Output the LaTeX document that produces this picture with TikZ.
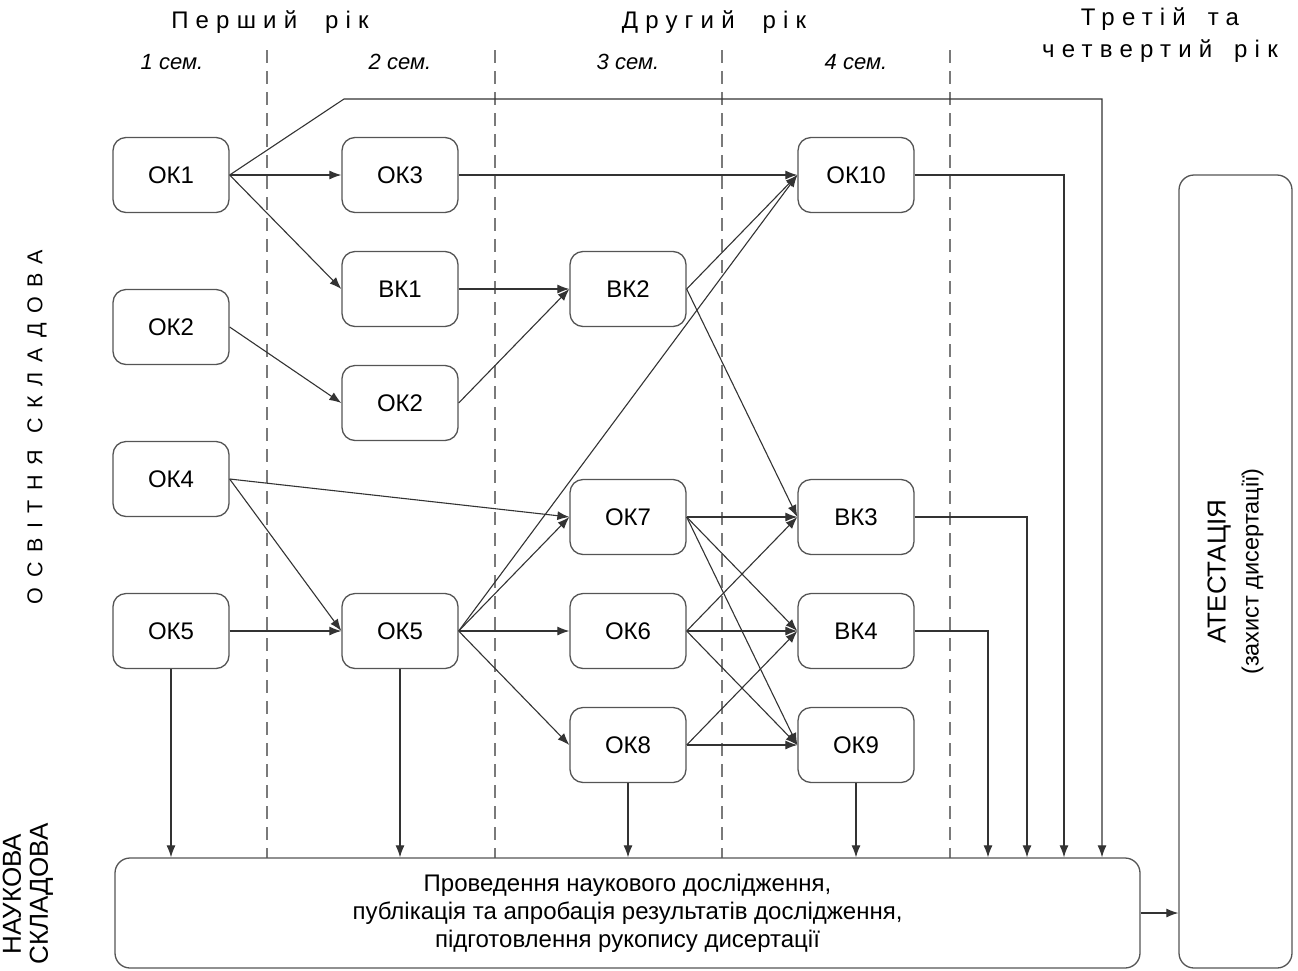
\documentclass[tikz,border=0pt]{standalone}
\usepackage{fontspec}
\setmainfont{Liberation Sans}
\newfontfamily\spaced[LetterSpace=30]{Liberation Sans}
\newfontfamily\spacedb[LetterSpace=45]{Liberation Sans}
\usetikzlibrary{arrows.meta,calc}
\definecolor{boxgray}{HTML}{555555}
\definecolor{linegray}{HTML}{333333}
\definecolor{dashgray}{HTML}{7A7A7A}
\begin{document}
\begin{tikzpicture}[x=1pt,y=-1pt,
  box/.style={draw=boxgray, line width=1.3pt, rounded corners=13pt, minimum width=116pt, minimum height=75pt, inner sep=0pt, font=\fontsize{24}{28}\selectfont},
  arr/.style={draw=linegray, line width=1.1pt, -{Latex[length=12pt,width=9pt]}},
  dashlin/.style={draw=dashgray, line width=1.2pt, dash pattern=on 13pt off 8pt},
  hdr/.style={font=\spaced\fontsize{24}{32}\selectfont, inner sep=0pt},
  sem/.style={font=\itshape\fontsize{22}{26}\selectfont, inner sep=0pt}]
\useasboundingbox (0,0) rectangle (1298,970);

% dashed separators
\foreach \x in {267,495,722,950} \draw[dashlin] (\x,50) -- (\x,858);

% headers
\node[hdr] (y1) at (270,22) {Перший\hspace{14pt} рік};
\node[hdr] (y2) at (714,22) {Другий\hspace{14pt} рік};
\node[hdr, align=center] (y3) at (1160,35) {Третій\hspace{8pt} та\\четвертий\hspace{8pt} рік};
\node[sem] (s1) at (172,62) {1 сем.};
\node[sem] (s2) at (400,62) {2 сем.};
\node[sem] (s3) at (628,62) {3 сем.};
\node[sem] (s4) at (856,62) {4 сем.};

% side labels
\node[rotate=90, inner sep=0pt, font=\spacedb\fontsize{21.5}{25}\selectfont] (osv) at (37,427) {ОСВІТНЯ СКЛАДОВА};
\node[rotate=90, align=center, inner sep=0pt, font=\fontsize{26}{27}\selectfont] (nauk) at (28,894) {НАУКОВА\\СКЛАДОВА};

% nodes
\node[box] (ok1) at (171,175) {ОК1};
\node[box] (ok2a) at (171,327) {ОК2};
\node[box] (ok4) at (171,479) {ОК4};
\node[box] (ok5a) at (171,631) {ОК5};
\node[box] (ok3) at (400,175) {ОК3};
\node[box] (bk1) at (400,289) {ВК1};
\node[box] (ok2b) at (400,403) {ОК2};
\node[box] (ok5b) at (400,631) {ОК5};
\node[box] (bk2) at (628,289) {ВК2};
\node[box] (ok7) at (628,517) {ОК7};
\node[box] (ok6) at (628,631) {ОК6};
\node[box] (ok8) at (628,745) {ОК8};
\node[box] (ok10) at (856,175) {ОК10};
\node[box] (bk3) at (856,517) {ВК3};
\node[box] (bk4) at (856,631) {ВК4};
\node[box] (ok9) at (856,745) {ОК9};

\node[box, minimum width=1025pt, minimum height=110pt, rounded corners=15pt, align=center, font=\fontsize{24}{28}\selectfont] (bot) at (627.5,913)
  {Проведення наукового дослідження,\\публікація та апробація результатів дослідження,\\підготовлення рукопису дисертації};
\node[box, rotate=90, minimum width=793pt, minimum height=113pt, rounded corners=15pt, align=center, font=\fontsize{23.5}{33}\selectfont] (att) at (1235.5,571.5)
  {{\fontsize{26}{33}\selectfont АТЕСТАЦІЯ}\\(захист дисертації)};

% coordinates
\coordinate (top1) at (344,99);
\coordinate (top2) at (1102,99);
\coordinate (t10) at (1064,175);
\coordinate (t3) at (1027,517);
\coordinate (t4) at (988,631);

% connectors
\draw[arr] (ok1.east) -- (ok3.west);
\draw[arr] (ok1.east) -- (bk1.west);
\draw[arr] (ok1.east) -- (top1) -- (top2) -- (top2 |- bot.north);
\draw[arr] (ok2a.east) -- (ok2b.west);
\draw[arr] (ok4.east) -- (ok7.west);
\draw[arr] (ok4.east) -- (ok5b.west);
\draw[arr] (ok5a.east) -- (ok5b.west);
\draw[arr] (ok3.east) -- (ok10.west);
\draw[arr] (bk1.east) -- (bk2.west);
\draw[arr] (ok2b.east) -- (bk2.west);
\draw[arr] (ok5b.east) -- (ok7.west);
\draw[arr] (ok5b.east) -- (ok6.west);
\draw[arr] (ok5b.east) -- (ok8.west);
\draw[arr] (ok5b.east) -- (ok10.west);
\draw[arr] (bk2.east) -- (ok10.west);
\draw[arr] (bk2.east) -- (bk3.west);
\draw[arr] (ok7.east) -- (bk3.west);
\draw[arr] (ok7.east) -- (bk4.west);
\draw[arr] (ok7.east) -- (ok9.west);
\draw[arr] (ok6.east) -- (bk3.west);
\draw[arr] (ok6.east) -- (bk4.west);
\draw[arr] (ok6.east) -- (ok9.west);
\draw[arr] (ok8.east) -- (bk4.west);
\draw[arr] (ok8.east) -- (ok9.west);
\draw[arr] (ok10.east) -- (t10) -- (t10 |- bot.north);
\draw[arr] (bk3.east) -- (t3) -- (t3 |- bot.north);
\draw[arr] (bk4.east) -- (t4) -- (t4 |- bot.north);
\draw[arr] (ok5a.south) -- (ok5a.south |- bot.north);
\draw[arr] (ok5b.south) -- (ok5b.south |- bot.north);
\draw[arr] (ok8.south) -- (ok8.south |- bot.north);
\draw[arr] (ok9.south) -- (ok9.south |- bot.north);
\draw[arr] (bot.east) -- (bot.east -| att.north);
\end{tikzpicture}
\end{document}
